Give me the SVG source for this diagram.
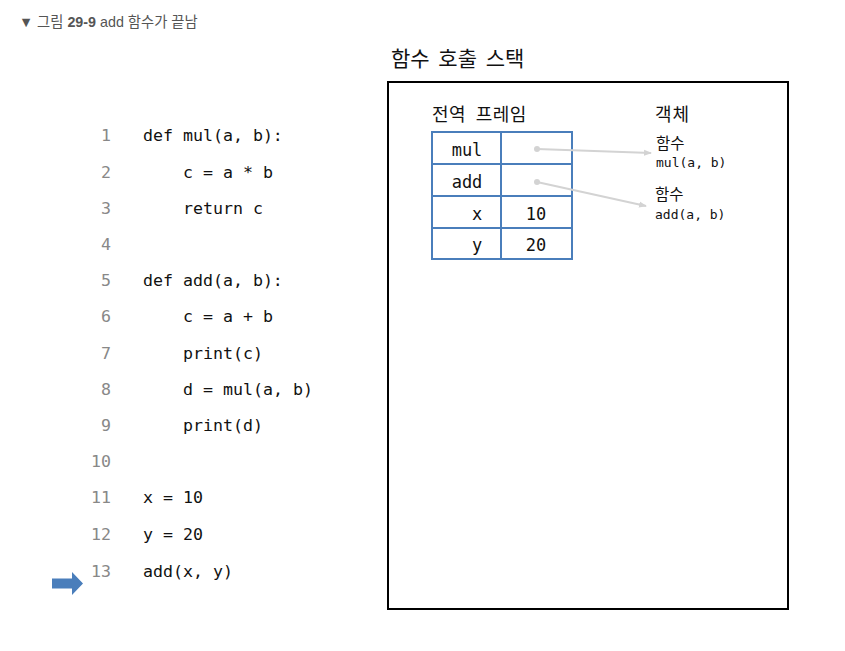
<svg xmlns="http://www.w3.org/2000/svg" width="845" height="651" viewBox="0 0 845 651">
<style>
.hd{font-family:"Liberation Sans","Noto Sans CJK KR",sans-serif;font-size:14.3px;fill:#555}
.ko{font-family:"Noto Sans CJK KR",sans-serif;fill:#111}
.mono{font-family:"DejaVu Sans Mono","Noto Sans CJK KR",monospace;fill:#111}
.code{font-size:16.6px}
.ln{font-family:"DejaVu Sans Mono",monospace;font-size:16.6px;fill:#888;text-anchor:end}
.cell{fill:none;stroke:#4a7ebb;stroke-width:2}
.ptr{stroke:#d3d3d3;stroke-width:2;fill:none}
</style>
<defs>
<marker id="ah" markerWidth="8" markerHeight="8" refX="7" refY="4" orient="auto" markerUnits="userSpaceOnUse">
<path d="M0,1 L8,4 L0,7 Z" fill="#d3d3d3"/>
</marker>
</defs>
<rect width="845" height="651" fill="#fff"/>
<text class="hd" x="19" y="27">▼ 그림 <tspan font-weight="bold">29-9</tspan> add 함수가 끝남</text>

<g id="code">
<text class="ln" x="111" y="141">1</text><text class="mono code" x="143" y="141">def mul(a, b):</text>
<text class="ln" x="111" y="178">2</text><text class="mono code" x="183" y="178">c = a * b</text>
<text class="ln" x="111" y="214">3</text><text class="mono code" x="183" y="214">return c</text>
<text class="ln" x="111" y="250">4</text>
<text class="ln" x="111" y="286">5</text><text class="mono code" x="143" y="286">def add(a, b):</text>
<text class="ln" x="111" y="322">6</text><text class="mono code" x="183" y="322">c = a + b</text>
<text class="ln" x="111" y="359">7</text><text class="mono code" x="183" y="359">print(c)</text>
<text class="ln" x="111" y="395">8</text><text class="mono code" x="183" y="395">d = mul(a, b)</text>
<text class="ln" x="111" y="431">9</text><text class="mono code" x="183" y="431">print(d)</text>
<text class="ln" x="111" y="467">10</text>
<text class="ln" x="111" y="503">11</text><text class="mono code" x="143" y="503">x = 10</text>
<text class="ln" x="111" y="540">12</text><text class="mono code" x="143" y="540">y = 20</text>
<text class="ln" x="111" y="577">13</text><text class="mono code" x="143" y="577">add(x, y)</text>
</g>

<g id="current-arrow">
<path d="M52,578.5 L72,578.5 L72,572 L83,583.5 L72,595 L72,588.5 L52,588.5 Z" fill="#4a7ebb"/>
</g>

<g id="stack">
<text class="ko" x="391" y="66" font-size="21" word-spacing="4">함수 호출 스택</text>
<rect x="388" y="82" width="400" height="527" fill="none" stroke="#000" stroke-width="2"/>
</g>

<g id="global-frame">
<text class="ko" x="432" y="121" font-size="18" word-spacing="5" letter-spacing="0.5">전역 프레임</text>
<rect class="cell" x="432" y="132" width="140" height="127"/>
<line class="cell" x1="501" y1="132" x2="501" y2="259"/>
<line class="cell" x1="432" y1="164" x2="572" y2="164"/>
<line class="cell" x1="432" y1="196" x2="572" y2="196"/>
<line class="cell" x1="432" y1="228" x2="572" y2="228"/>
<g class="mono" font-size="17" text-anchor="middle">
<text x="467" y="156">mul</text>
<text x="467" y="188">add</text>
<text x="477" y="220">x</text>
<text x="536" y="220">10</text>
<text x="477" y="251">y</text>
<text x="536" y="251">20</text>
</g>
</g>

<g id="objects">
<text class="ko" x="655" y="121" font-size="18" letter-spacing="1">객체</text>
<text class="ko" x="656" y="149" font-size="15.5">함수</text>
<text class="mono" x="656" y="167" font-size="13">mul(a, b)</text>
<text class="ko" x="655" y="200" font-size="15.5">함수</text>
<text class="mono" x="655" y="219" font-size="13">add(a, b)</text>
</g>

<g id="connectors">
<circle cx="537" cy="149" r="3" fill="#d3d3d3"/>
<line class="ptr" x1="537" y1="149" x2="651" y2="153" marker-end="url(#ah)"/>
<circle cx="537" cy="182" r="3" fill="#d3d3d3"/>
<line class="ptr" x1="537" y1="182" x2="646" y2="206" marker-end="url(#ah)"/>
</g>
</svg>
